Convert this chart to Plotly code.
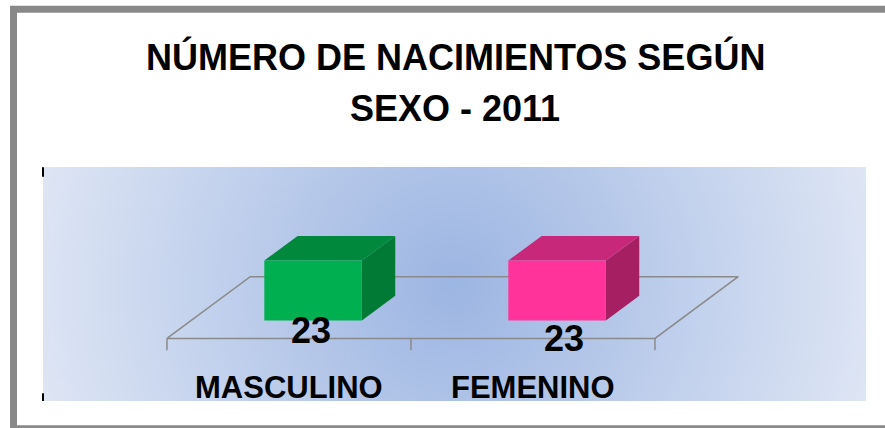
import base64
import plotly.graph_objects as go

# ---- data ----
categories = ["MASCULINO", "FEMENINO"]
values = [23, 23]
title_lines = ["NÚMERO DE NACIMIENTOS SEGÚN", "SEXO - 2011"]

front_colors = ["#00b050", "#ff3399"]
top_colors = ["#00883d", "#c8287a"]
side_colors = ["#007a34", "#a61f62"]

# ---- geometry (layout), in page pixels ----
W, H = 885, 428
PL, PR, PT, PB = 43, 866, 167.3, 400.7    # plot area in page pixels
x_range = [-1.008, -1.008 + (PR - PL) / 244.0]
y_range = [-(PB - 338.3) / 2.6, (338.3 - PT) / 2.6]
DX, DY = 0.3414, 23.69        # oblique offset for unit depth
Z0, Z1 = 0.29, 0.69           # bar depth
HALF = 0.2                    # half bar width


def px_x(px):
    return (px - PL) / (PR - PL)


def px_y(py):
    return (PB - py) / (PB - PT)


fig = go.Figure()

# floor outline
n = len(categories)
fx = [-0.5, n - 0.5, n - 0.5 + DX, -0.5 + DX, -0.5]
fy = [0, 0, DY, DY, 0]
fig.add_trace(go.Scatter(x=fx, y=fy, mode="lines", line=dict(color="#8a8a8a", width=1.5),
                         hoverinfo="skip", showlegend=False))
tx, ty = [], []
for k in range(n + 1):
    tx += [k - 0.5, k - 0.5, None]
    ty += [0, -4.5, None]
fig.add_trace(go.Scatter(x=tx, y=ty, mode="lines", line=dict(color="#8a8a8a", width=1.5),
                         hoverinfo="skip", showlegend=False))

# 3D bars
for i, v in enumerate(values):
    x0 = i - HALF + Z0 * DX
    x1 = i + HALF + Z0 * DX
    yb = Z0 * DY
    yt = yb + v
    ddx = (Z1 - Z0) * DX
    ddy = (Z1 - Z0) * DY
    # side
    fig.add_trace(go.Scatter(x=[x1, x1, x1 + ddx, x1 + ddx, x1], y=[yt, yb, yb + ddy, yt + ddy, yt],
                             fill="toself", fillcolor=side_colors[i], mode="lines",
                             line=dict(width=0, color=side_colors[i]), hoverinfo="skip", showlegend=False))
    # top
    fig.add_trace(go.Scatter(x=[x0, x1, x1 + ddx, x0 + ddx, x0], y=[yt, yt, yt + ddy, yt + ddy, yt],
                             fill="toself", fillcolor=top_colors[i], mode="lines",
                             line=dict(width=0, color=top_colors[i]), hoverinfo="skip", showlegend=False))
    # front
    fig.add_trace(go.Scatter(x=[x0, x1, x1, x0, x0], y=[yb, yb, yt, yt, yb],
                             fill="toself", fillcolor=front_colors[i], mode="lines",
                             line=dict(width=0, color=front_colors[i]), hoverinfo="skip", showlegend=False))

annotations = []
label_pos = [(0.09, 3.2), (1.127, 0.15)]
for i, v in enumerate(values):
    annotations.append(dict(x=label_pos[i][0], y=label_pos[i][1], xref="x", yref="y", text="<b>%d</b>" % v,
                            showarrow=False, font=dict(family="Liberation Sans", size=36, color="black"),
                            xanchor="center", yanchor="middle"))
for i, c in enumerate(categories):
    annotations.append(dict(x=i, y=-18.8, xref="x", yref="y", text="<b>%s</b>" % c, showarrow=False,
                            font=dict(family="Liberation Sans", size=31, color="black"),
                            xanchor="center", yanchor="middle"))
for t, cy in zip(title_lines, [57.5, 108.5]):
    annotations.append(dict(x=px_x(455), y=px_y(cy), xref="paper", yref="paper", text="<b>%s</b>" % t,
                            showarrow=False, font=dict(family="Liberation Sans", size=36, color="black"),
                            xanchor="center", yanchor="middle"))

# radial gradient background
svg = ('<svg xmlns="http://www.w3.org/2000/svg" width="823" height="233" viewBox="0 0 823 233" '
       'preserveAspectRatio="none"><defs><radialGradient id="g" gradientUnits="userSpaceOnUse" '
       'cx="411" cy="117" r="440"><stop offset="0" stop-color="#9cb5e2"/>'
       '<stop offset="1" stop-color="#e0e7f5"/></radialGradient></defs>'
       '<rect x="0" y="0" width="823" height="233" fill="url(#g)"/></svg>')
src = "data:image/svg+xml;base64," + base64.b64encode(svg.encode()).decode()

frame = dict(color="#898989", width=7)
shapes = [
    # outer frame: top, left, bottom (right edge lies outside the picture)
    dict(type="line", xref="paper", yref="paper", x0=px_x(10), x1=px_x(900), y0=px_y(10), y1=px_y(10),
         line=frame, layer="above"),
    dict(type="line", xref="paper", yref="paper", x0=px_x(13.5), x1=px_x(13.5), y0=px_y(7), y1=px_y(432),
         line=frame, layer="above"),
    dict(type="line", xref="paper", yref="paper", x0=px_x(10), x1=px_x(900), y0=px_y(428.5), y1=px_y(428.5),
         line=frame, layer="above"),
    # remnants of the vertical axis
    dict(type="line", xref="paper", yref="paper", x0=0, x1=0, y0=px_y(167.5), y1=px_y(177),
         line=dict(color="black", width=2)),
    dict(type="line", xref="paper", yref="paper", x0=0, x1=0, y0=px_y(393), y1=px_y(400.7),
         line=dict(color="black", width=2)),
]

fig.update_layout(
    width=W, height=H,
    margin=dict(l=PL, r=W - PR, t=PT, b=H - PB, pad=0),
    paper_bgcolor="white", plot_bgcolor="#c4d3ee",
    xaxis=dict(range=x_range, visible=False, fixedrange=True),
    yaxis=dict(range=y_range, visible=False, fixedrange=True),
    images=[dict(source=src, xref="paper", yref="paper", x=0, y=1, sizex=1, sizey=1,
                 sizing="stretch", layer="below", xanchor="left", yanchor="top")],
    annotations=annotations, shapes=shapes, showlegend=False,
)
fig.write_html("out.html", config={"displayModeBar": False},
               post_script="document.body.style.margin='0';document.body.style.overflow='hidden';"
                           "document.documentElement.style.overflow='hidden';")
